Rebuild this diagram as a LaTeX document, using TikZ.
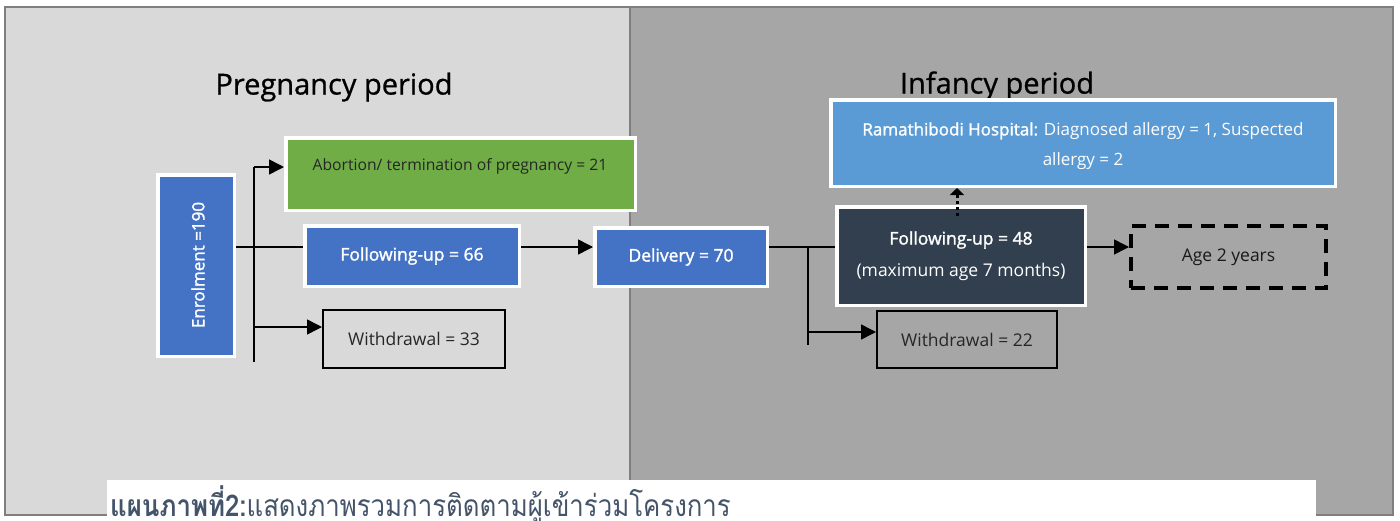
\documentclass[tikz,border=0pt]{standalone}
\usepackage{fontspec}
\setmainfont{Open Sans}
\newfontfamily\semibold[FakeBold=1.6]{Open Sans}
\newfontfamily\titlefont[FakeBold=0.8]{Open Sans}
\newfontfamily\thaifont[Script=Thai,FakeStretch=0.86]{Loma}
\usetikzlibrary{arrows.meta}
\definecolor{panelL}{HTML}{D9D9D9}
\definecolor{panelR}{HTML}{A6A6A6}
\definecolor{frame}{HTML}{7F7F7F}
\definecolor{boxblue}{HTML}{4472C4}
\definecolor{lightblue}{HTML}{5B9BD5}
\definecolor{boxgreen}{HTML}{70AD47}
\definecolor{navy}{HTML}{323F4F}
\definecolor{captioncol}{HTML}{44546A}
\tikzset{
  wbox/.style={draw=white, line width=3.5pt, inner sep=0pt, align=center},
  kbox/.style={draw=black, line width=2pt, inner sep=0pt, align=center},
  boxtext/.style={font=\fontsize{17.5}{30}\selectfont},
  boldtext/.style={font=\fontsize{17.5}{30}\selectfont\semibold},
  conn/.style={line width=1.5pt},
  arr/.style={conn, -{Triangle[length=15pt,width=15pt]}},
}
\begin{document}
\begin{tikzpicture}[x=1pt,y=-1pt]
\useasboundingbox (0,0) rectangle (1400,520);
% background panels
\fill[panelL] (5,7) rectangle (630,515);
\fill[panelR] (630,7) rectangle (1393,515);
\draw[frame, line width=2pt] (5,7) rectangle (1393,515);
\draw[frame, line width=2.5pt] (630,7) -- (630,515);

% panel titles
\node[font=\fontsize{29}{34}\selectfont\titlefont] (tp) at (334,87) {Pregnancy period};
\node[font=\fontsize{29}{34}\selectfont\titlefont] (ti) at (997,86) {Infancy period};

% pregnancy boxes
\node[wbox, fill=boxblue, minimum width=76.5pt, minimum height=181.5pt] (enr) at (196,265.5) {};
\node[rotate=90, text=white, font=\fontsize{17}{20}\selectfont\semibold] (enrt) at (198,265) {Enrolment =190};
\node[wbox, fill=boxgreen, minimum width=349.5pt, minimum height=72.5pt] (ab) at (460.5,174) {};
\node[font=\fontsize{15.7}{30}\selectfont, text=black!85] (abt) at (460,166) {Abortion/ termination of pregnancy = 21};
\node[wbox, fill=boxblue, minimum width=214.5pt, minimum height=60.5pt, boldtext, text=white] (fu66) at (412,256) {Following-up = 66};
\node[kbox, minimum width=182pt, minimum height=58pt, boxtext, text=black!85] (w33) at (414,339) {Withdrawal = 33};

% infancy boxes
\node[wbox, fill=boxblue, minimum width=172.5pt, minimum height=58.5pt, boldtext, text=white] (del) at (681,257) {Delivery = 70};
\node[wbox, fill=lightblue, minimum width=504.5pt, minimum height=86.5pt, font=\fontsize{17}{30}\selectfont, text=white] (ram) at (1083,143) {};
\node[align=center, font=\fontsize{17}{30}\selectfont, text=white] (ramt) at (1083,146) {{\semibold Ramathibodi Hospital:} Diagnosed allergy = 1, Suspected\\allergy = 2};
\node[wbox, fill=navy, minimum width=248.5pt, minimum height=98.5pt, font=\fontsize{17.5}{32}\selectfont, text=white] (fu48) at (961,256) {{\semibold Following-up = 48}\\(maximum age 7 months)};
\node[draw=black, dashed, dash pattern=on 14pt off 9pt, line width=4pt, inner sep=0pt, minimum width=195pt, minimum height=62pt, boxtext, text=black!90] (age) at (1228.5,257) {Age 2 years};
\node[kbox, minimum width=180pt, minimum height=57pt, boxtext, text=black!85] (w22) at (967,339.5) {Withdrawal = 22};

% connectors
\coordinate (row) at (0,247);
\coordinate (tTop) at (254,167);
\coordinate (tBot) at (254,362);
\coordinate (tW) at (254,327);
\draw[conn] (enr.east |- row) -- (fu66.west |- row);
\draw[conn] (tTop) -- (tBot);
\draw[arr] (tTop) -- (ab.west |- tTop);
\draw[arr] (tW) -- (w33.west |- tW);
\draw[arr] (fu66.east |- row) -- (del.west |- row);

\coordinate (dJ) at (808,247);
\coordinate (dB) at (808,345);
\coordinate (dW) at (808,332);
\draw[conn] (del.east |- row) -- (fu48.west |- row);
\draw[conn] (dJ) -- (dB);
\draw[arr] (dW) -- (w22.west |- dW);
\draw[arr] (fu48.east |- row) -- (age.west |- row);
\draw[line width=3pt, dash pattern=on 3pt off 3pt, -{Triangle[length=7pt,width=14pt]}] ([xshift=-4pt,yshift=-11pt]fu48.north) -- ([xshift=-4pt]fu48.north |- ram.south);

% caption strip
\fill[white] (107,480) rectangle (1316,525);
\node[anchor=base west, inner sep=0pt, text=captioncol, font=\thaifont\fontsize{30}{32}\selectfont] (cap) at (110,516) {\textbf{แผนภาพที่2:}แสดงภาพรวมการติดตามผู้เข้าร่วมโครงการ};
\end{tikzpicture}
\end{document}
